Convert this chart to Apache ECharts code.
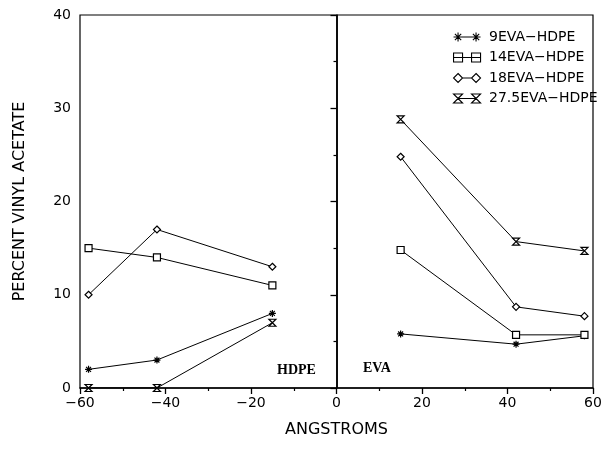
<!DOCTYPE html>
<html>
<head>
<meta charset="utf-8">
<script src="https://cdn.jsdelivr.net/npm/echarts@6/dist/echarts.min.js"></script>
<style>
  html, body { margin: 0; padding: 0; background: #fff; }
  #chart { width: 611px; height: 456px; }
</style>
</head>
<body>
<div id="chart"></div>
<script>
// Depth positions (Å) on either side of the HDPE / EVA interface
const hdpeDepth = [-58, -42, -15];
const evaDepth = [15, 42, 58];

// Percent vinyl acetate for each blend
const seriesNames = ['9EVA\u2212HDPE', '14EVA\u2212HDPE', '18EVA\u2212HDPE', '27.5EVA\u2212HDPE'];
const vaHdpe9 = [2, 3, 8];
const vaEva9 = [5.8, 4.7, 5.6];
const vaHdpe14 = [15, 14, 11];
const vaEva14 = [14.8, 5.7, 5.7];
const vaHdpe18 = [10, 17, 13];
const vaEva18 = [24.8, 8.7, 7.7];
const vaHdpe275 = [0, 0, 7];
const vaEva275 = [28.8, 15.7, 14.7];

const xTicks = [-60, -40, -20, 0, 20, 40, 60];
const yTicks = [0, 10, 20, 30, 40];

// Marker outlines (stroked, white filled)
const starPath = 'path://M0,5L10,5M5,0L5,10M1.5,1.5L8.5,8.5M1.5,8.5L8.5,1.5';
const squarePath = 'path://M0,0L10,0L10,10L0,10Z';
const diamondPath = 'path://M5,0L10,5L5,10L0,5Z';
const hourglassPath = 'path://M0,0L10,0L0,10L10,10Z';

// Legend icons: marker, joining line, marker
const legendIcons = [
  'path://M0,5L10,5M5,0L5,10M1.5,1.5L8.5,8.5M1.5,8.5L8.5,1.5M10,5L20,5M20,5L30,5M25,0L25,10M21.5,1.5L28.5,8.5M21.5,8.5L28.5,1.5',
  'path://M0,0L10,0L10,10L0,10ZM0,5L30,5M20,0L30,0L30,10L20,10Z',
  'path://M5,0L10,5L5,10L0,5ZM10,5L20,5M25,0L30,5L25,10L20,5Z',
  'path://M0,0L10,0L0,10L10,10ZM5,5L25,5M20,0L30,0L20,10L30,10Z'
];
const markers = [starPath, squarePath, diamondPath, hourglassPath];

function joinSides(xl, yl, xr, yr) {
  const pts = xl.map((x, i) => [x, yl[i]]);
  pts.push([0, '-']); // break the line across the interface
  xr.forEach((x, i) => pts.push([x, yr[i]]));
  return pts;
}

const seriesData = [
  joinSides(hdpeDepth, vaHdpe9, evaDepth, vaEva9),
  joinSides(hdpeDepth, vaHdpe14, evaDepth, vaEva14),
  joinSides(hdpeDepth, vaHdpe18, evaDepth, vaEva18),
  joinSides(hdpeDepth, vaHdpe275, evaDepth, vaEva275)
];

const FONT = 'DejaVu Sans';
const minusFmt = v => String(v).replace('-', '\u2212');

const chart = echarts.init(document.getElementById('chart'), null, { renderer: 'canvas' });

const series = seriesNames.map((name, i) => ({
  name: name,
  type: 'line',
  data: seriesData[i],
  connectNulls: false,
  symbol: markers[i],
  symbolSize: 7,
  showAllSymbol: true,
  lineStyle: { color: '#000', width: 1 },
  itemStyle: { color: '#fff', borderColor: '#000', borderWidth: 1.2 },
  emphasis: { disabled: true },
  animation: false,
  z: 3
}));

// Interface divider at 0 Å
series[0].markLine = {
  silent: true,
  symbol: ['none', 'none'],
  label: { show: false },
  lineStyle: { color: '#000', type: 'solid', width: 1.6 },
  data: [{ xAxis: 0 }],
  animation: false
};

chart.setOption({
  backgroundColor: '#fff',
  animation: false,
  grid: {
    left: 80, right: 18, top: 15, bottom: 68,
    show: true, borderColor: '#000', borderWidth: 1.2, backgroundColor: 'transparent'
  },
  legend: {
    orient: 'vertical',
    left: 448,
    top: 25,
    itemWidth: 28,
    itemHeight: 9,
    itemGap: 6.5,
    selectedMode: false,
    data: seriesNames.map((n, i) => ({ name: n, icon: legendIcons[i] })),
    itemStyle: { color: '#fff', borderColor: '#000', borderWidth: 1.1 },
    textStyle: { fontFamily: FONT, fontSize: 14, color: '#000', padding: [0, 0, 0, 3] }
  },
  xAxis: {
    type: 'value',
    min: xTicks[0],
    max: xTicks[xTicks.length - 1],
    interval: 20,
    name: 'ANGSTROMS',
    nameLocation: 'middle',
    nameGap: 34,
    nameTextStyle: { fontFamily: FONT, fontSize: 16, color: '#000' },
    axisLine: { lineStyle: { color: '#000', width: 1.5 } },
    axisTick: { show: true, inside: false, length: 6, lineStyle: { color: '#000', width: 1.3 } },
    minorTick: { show: true, splitNumber: 2, length: 3, lineStyle: { color: '#000', width: 1.2 } },
    axisLabel: { fontFamily: FONT, fontSize: 14, color: '#000', margin: 8, formatter: minusFmt },
    splitLine: { show: false }
  },
  yAxis: {
    type: 'value',
    min: yTicks[0],
    max: yTicks[yTicks.length - 1],
    interval: 10,
    name: 'PERCENT VINYL ACETATE',
    nameLocation: 'middle',
    nameGap: 52,
    nameTextStyle: { fontFamily: FONT, fontSize: 16, color: '#000' },
    axisLine: { lineStyle: { color: '#000', width: 1.5 } },
    axisTick: { show: true, inside: false, length: 6, lineStyle: { color: '#000', width: 1.3 } },
    minorTick: { show: true, splitNumber: 2, length: 3, lineStyle: { color: '#000', width: 1.2 } },
    axisLabel: { fontFamily: FONT, fontSize: 14, color: '#000', margin: 9, formatter: minusFmt },
    splitLine: { show: false }
  },
  graphic: [
    {
      type: 'text', left: 277, top: 363, silent: true,
      style: { text: 'HDPE', fontFamily: 'Liberation Serif', fontWeight: 'bold', fontSize: 14, fill: '#000' }
    },
    {
      type: 'text', left: 363, top: 361, silent: true,
      style: { text: 'EVA', fontFamily: 'Liberation Serif', fontWeight: 'bold', fontSize: 14, fill: '#000' }
    }
  ],
  series: series
});
</script>
</body>
</html>
